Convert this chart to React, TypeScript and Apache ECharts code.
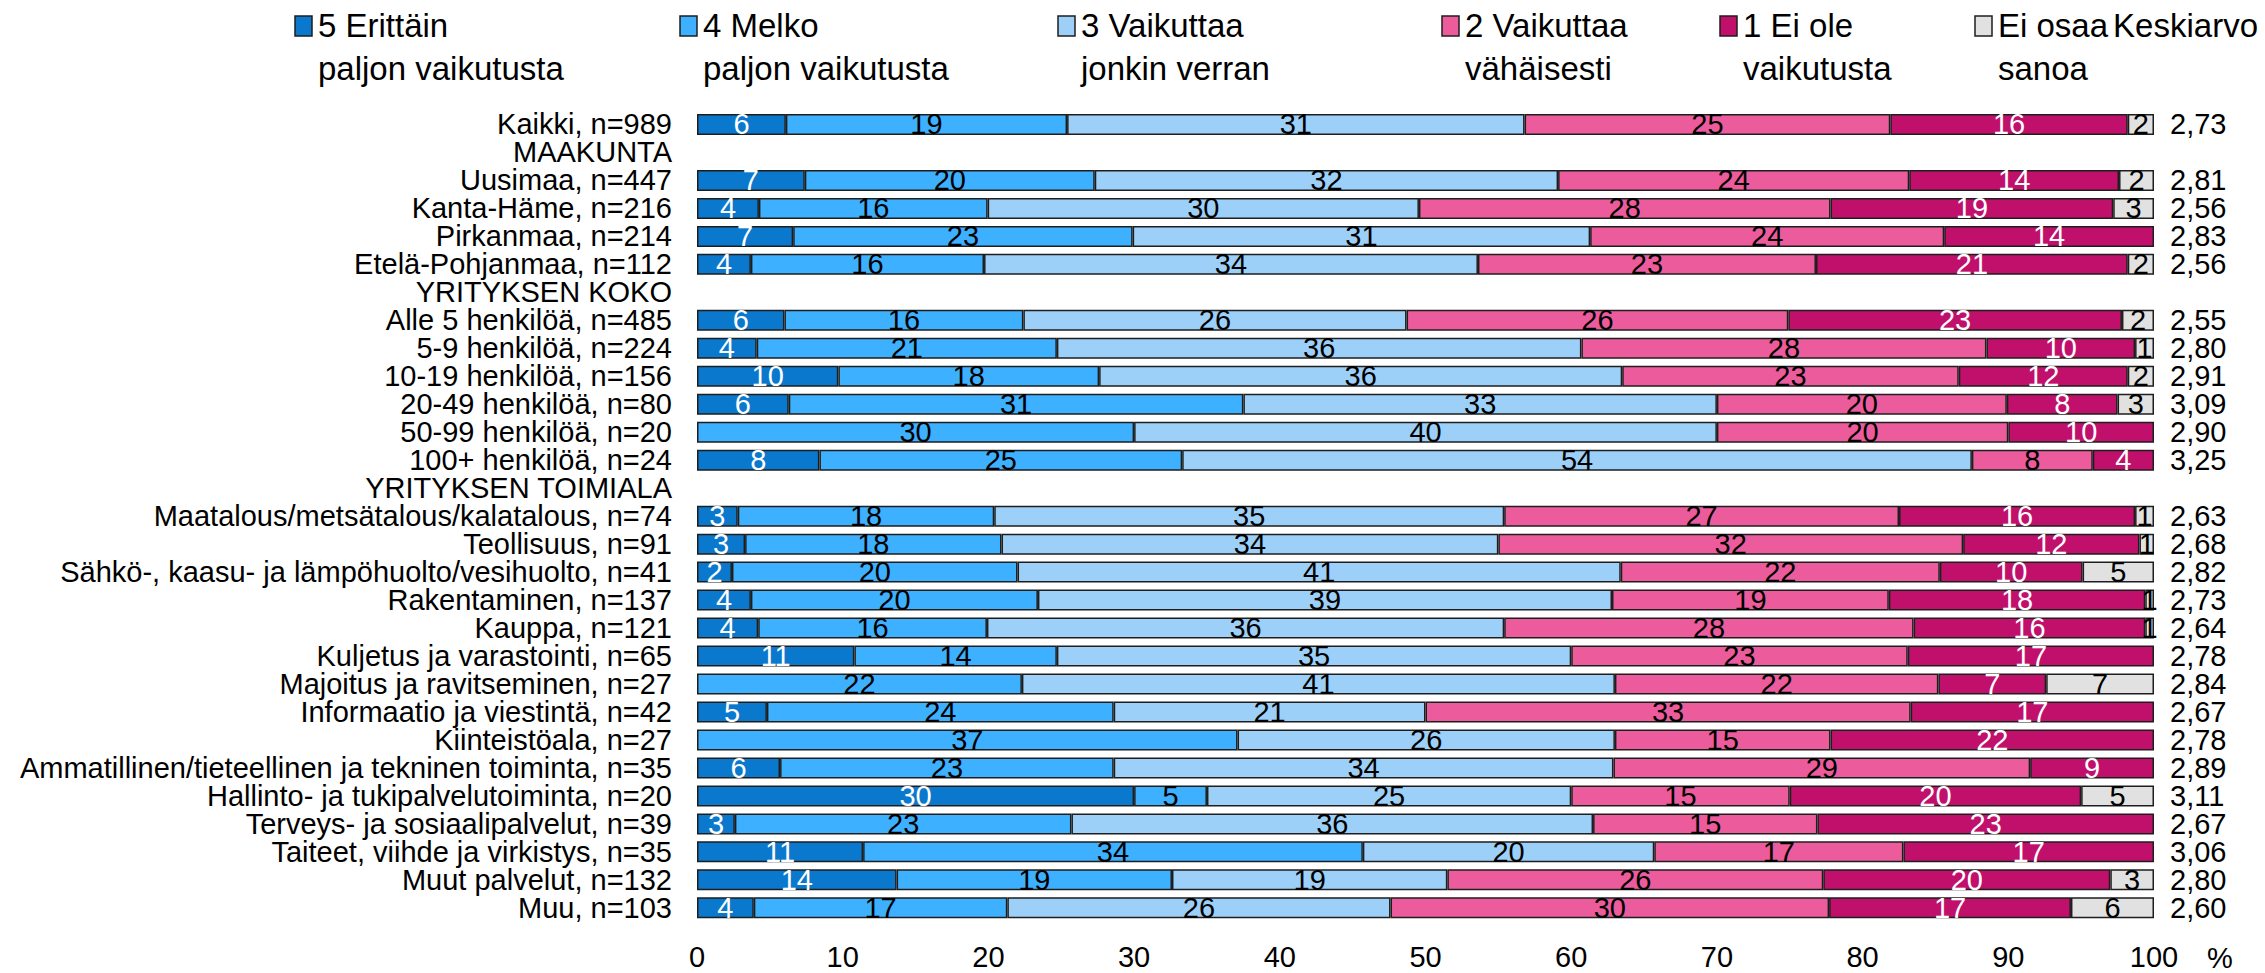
import React, { useEffect, useRef } from "react";
import * as echarts from "echarts";

const categories = [
  "Kaikki, n=989",
  "MAAKUNTA",
  "Uusimaa, n=447",
  "Kanta-Häme, n=216",
  "Pirkanmaa, n=214",
  "Etelä-Pohjanmaa, n=112",
  "YRITYKSEN KOKO",
  "Alle 5 henkilöä, n=485",
  "5-9 henkilöä, n=224",
  "10-19 henkilöä, n=156",
  "20-49 henkilöä, n=80",
  "50-99 henkilöä, n=20",
  "100+ henkilöä, n=24",
  "YRITYKSEN TOIMIALA",
  "Maatalous/metsätalous/kalatalous, n=74",
  "Teollisuus, n=91",
  "Sähkö-, kaasu- ja lämpöhuolto/vesihuolto, n=41",
  "Rakentaminen, n=137",
  "Kauppa, n=121",
  "Kuljetus ja varastointi, n=65",
  "Majoitus ja ravitseminen, n=27",
  "Informaatio ja viestintä, n=42",
  "Kiinteistöala, n=27",
  "Ammatillinen/tieteellinen ja tekninen toiminta, n=35",
  "Hallinto- ja tukipalvelutoiminta, n=20",
  "Terveys- ja sosiaalipalvelut, n=39",
  "Taiteet, viihde ja virkistys, n=35",
  "Muut palvelut, n=132",
  "Muu, n=103",
];

const v5 = [6.1, null, 7.4, 4.25, 6.6, 3.7, null, 6.0, 4.1, 9.7, 6.3, 0, 8.4, null, 2.8, 3.3, 2.4, 3.7, 4.2, 10.8, 0, 4.8, 0, 5.7, 30, 2.6, 11.4, 13.7, 3.9];
const v4 = [19.3, null, 19.9, 15.7, 23.3, 16.0, null, 16.4, 20.6, 17.9, 31.2, 30, 24.9, null, 17.6, 17.6, 19.6, 19.7, 15.7, 13.9, 22.3, 23.8, 37.1, 22.9, 5, 23.1, 34.3, 18.9, 17.4];
const v3 = [31.4, null, 31.8, 29.6, 31.4, 33.9, null, 26.3, 36.0, 35.9, 32.5, 40, 54.2, null, 35.0, 34.1, 41.4, 39.4, 35.5, 35.3, 40.7, 21.4, 25.9, 34.3, 25, 35.8, 20.0, 18.9, 26.3];
const v2 = [25.1, null, 24.1, 28.25, 24.3, 23.2, null, 26.2, 27.8, 23.1, 19.9, 20, 8.3, null, 27.1, 31.9, 21.9, 19.0, 28.1, 23.1, 22.2, 33.3, 14.8, 28.6, 15, 15.4, 17.1, 25.8, 30.1];
const v1 = [16.3, null, 14.4, 19.4, 14.4, 21.4, null, 22.9, 10.2, 11.6, 7.6, 10, 4.2, null, 16.2, 12.1, 9.8, 17.6, 15.9, 16.9, 7.4, 16.7, 22.2, 8.5, 20, 23.1, 17.2, 19.7, 16.6];
const vEO = [1.8, null, 2.4, 2.8, 0, 1.8, null, 2.2, 1.3, 1.8, 2.5, 0, 0, null, 1.3, 1.0, 4.9, 0.6, 0.6, 0, 7.4, 0, 0, 0, 5, 0, 0, 3.0, 5.7];

const keskiarvo = ["2,73", "", "2,81", "2,56", "2,83", "2,56", "", "2,55", "2,80", "2,91", "3,09", "2,90", "3,25", "", "2,63", "2,68", "2,82", "2,73", "2,64", "2,78", "2,84", "2,67", "2,78", "2,89", "3,11", "2,67", "3,06", "2,80", "2,60"];

const xTicks = ["0", "10", "20", "30", "40", "50", "60", "70", "80", "90", "100"];

const seriesNames = [
  "5 Erittäin\npaljon vaikutusta",
  "4 Melko\npaljon vaikutusta",
  "3 Vaikuttaa\njonkin verran",
  "2 Vaikuttaa\nvähäisesti",
  "1 Ei ole\nvaikutusta",
  "Ei osaa\nsanoa",
];
const seriesData = [v5, v4, v3, v2, v1, vEO];
const colors = ["#0A78CC", "#3DB0FF", "#9DD0F8", "#EC5C9C", "#C0106C", "#E1E1E1"];
const labelColors = ["#ffffff", "#000000", "#000000", "#000000", "#ffffff", "#000000"];
const legendX = [295, 680, 1058, 1442, 1720, 1975];

const FONT = "'Liberation Sans', Arial, Helvetica, sans-serif";

export default function App() {
  const ref = useRef<HTMLDivElement>(null);
  useEffect(() => {
    if (!ref.current) return;
    const chart = echarts.init(ref.current, null, { renderer: "svg" });
    const legendGraphics: any[] = [];
    seriesNames.forEach((n, i) => {
      legendGraphics.push({
        type: "rect",
        shape: { x: legendX[i], y: 16, width: 17, height: 20 },
        style: { fill: colors[i], stroke: "#1e1e1e", lineWidth: 1.5 },
      });
      legendGraphics.push({
        type: "text",
        x: legendX[i] + 23,
        y: 4,
        style: {
          text: n,
          fontSize: 33,
          lineHeight: 43,
          fontFamily: FONT,
          fill: "#000",
          verticalAlign: "top",
        },
      });
    });
    legendGraphics.push({
      type: "text",
      x: 2258,
      y: 4,
      style: { text: "Keskiarvo", fontSize: 33, lineHeight: 43, fontFamily: FONT, fill: "#000", verticalAlign: "top", align: "right" },
    });
    legendGraphics.push({
      type: "text",
      x: 2207,
      y: 958,
      style: { text: "%", fontSize: 29, fontFamily: FONT, fill: "#000", verticalAlign: "middle" },
    });

    const option: any = {
      animation: false,
      textStyle: { fontFamily: FONT },
      grid: { left: 697, right: 111, top: 110.5, bottom: 51.2, containLabel: false },
      xAxis: {
        type: "value",
        min: 0,
        max: 100,
        interval: 10,
        axisLine: { show: false },
        axisTick: { show: false },
        splitLine: { show: false },
        axisLabel: {
          margin: 21,
          fontSize: 29,
          color: "#000",
          fontFamily: FONT,
          formatter: (v: number) => xTicks[Math.round(v / 10)],
        },
      },
      yAxis: [
        {
          type: "category",
          data: categories,
          inverse: true,
          axisLine: { show: false },
          axisTick: { show: false },
          axisLabel: { interval: 0, margin: 25, fontSize: 29, color: "#000", fontFamily: FONT },
        },
        {
          type: "category",
          data: keskiarvo,
          inverse: true,
          position: "right",
          axisLine: { show: false },
          axisTick: { show: false },
          axisLabel: { interval: 0, margin: 16, fontSize: 29, color: "#000", fontFamily: FONT, align: "left" },
        },
      ],
      series: seriesData.map((d, i) => ({
        name: seriesNames[i],
        type: "bar",
        stack: "total",
        yAxisIndex: 0,
        barWidth: 21,
        data: d.map((v) => (v === 0 ? null : v)),
        itemStyle: { color: colors[i], borderColor: "#1e1e1e", borderWidth: 1.5 },
        label: {
          show: true,
          position: "inside",
          fontSize: 29,
          fontFamily: FONT,
          color: labelColors[i],
          formatter: (p: any) => {
            if (p.value == null) return "";
            const r = Math.round(p.value);
            return r >= 1 ? String(r) : "";
          },
        },
      })),
      graphic: legendGraphics,
    };
    chart.setOption(option);
    return () => chart.dispose();
  }, []);
  return <div ref={ref} style={{ position: "absolute", left: 0, top: 0, width: 2265, height: 973 }} />;
}
